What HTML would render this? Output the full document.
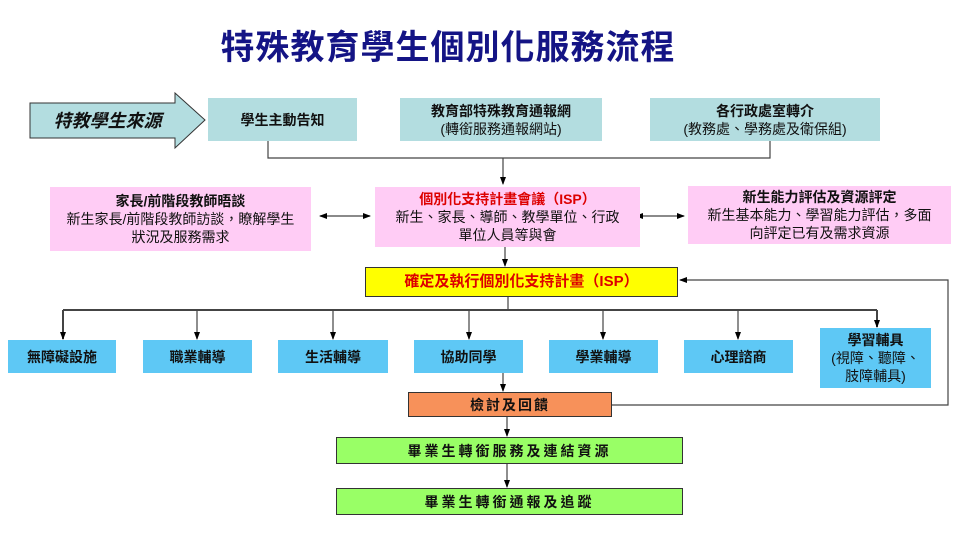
<!DOCTYPE html>
<html><head><meta charset="utf-8"><style>
body{margin:0;width:960px;height:540px;background:#fff;position:relative;overflow:hidden;font-family:"Liberation Sans","Noto Sans CJK TC",sans-serif;}
.b{position:absolute;display:flex;flex-direction:column;align-items:center;justify-content:center;text-align:center;color:#111;font-size:14px;line-height:18px;box-sizing:border-box}
.t{background:#b3dde0}
.p{background:#ffccf5}
.c{background:#5ec8f5;font-weight:bold;font-size:14px}
b{font-weight:bold}
svg{position:absolute;left:0;top:0}
</style></head><body>
<div class="b" style="left:200px;top:28px;width:496px;height:40px;font-size:34px;font-weight:bold;color:#141485;letter-spacing:1px">特殊教育學生個別化服務流程</div>
<svg width="960" height="540">
<defs><marker id="a" markerWidth="8" markerHeight="8" refX="7" refY="4" orient="auto" markerUnits="userSpaceOnUse"><path d="M0,1 L8,4 L0,7z" fill="#000"/></marker>
<marker id="s" markerWidth="8" markerHeight="8" refX="1" refY="4" orient="auto" markerUnits="userSpaceOnUse"><path d="M8,1 L0,4 L8,7z" fill="#000"/></marker></defs>
<path d="M30,103 H175 V93 L205,120 L175,148 V138 H30Z" fill="#b3dde0" stroke="#333" stroke-width="1"/>
<g stroke="#444" stroke-width="1.2" fill="none">
<path d="M268,141 V158 H770 V141"/>
<path d="M503,158 V184" marker-end="url(#a)"/>
<path d="M320,216 H370" marker-start="url(#s)" marker-end="url(#a)"/>
<path d="M636,216 H684" marker-start="url(#s)" marker-end="url(#a)"/>
<path d="M505,246 V266" marker-end="url(#a)"/>
<path d="M508,297 V309"/>
<path d="M63,310 H877" stroke-width="2"/>
<path d="M63,310 V339" marker-end="url(#a)" stroke-width="2"/>
<path d="M197,310 V339" marker-end="url(#a)"/>
<path d="M333,310 V339" marker-end="url(#a)"/>
<path d="M469,310 V339" marker-end="url(#a)"/>
<path d="M603,310 V339" marker-end="url(#a)"/>
<path d="M738,310 V339" marker-end="url(#a)"/>
<path d="M877,310 V327" marker-end="url(#a)" stroke-width="2"/>
<path d="M503,373 V391" marker-end="url(#a)"/>
<path d="M612,405 H948 V280 H680" marker-end="url(#a)"/>
<path d="M507,417 V436" marker-end="url(#a)"/>
<path d="M507,464 V487" marker-end="url(#a)"/>
</g>
</svg>
<div class="b" style="left:40px;top:104px;width:135px;height:34px;font-size:18px;font-weight:bold;font-style:italic">特教學生來源</div>
<div class="b t" style="left:208px;top:98px;width:149px;height:43px"><b>學生主動告知</b></div>
<div class="b t" style="left:400px;top:98px;width:202px;height:43px"><b>教育部特殊教育通報網</b><span>(轉銜服務通報網站)</span></div>
<div class="b t" style="left:650px;top:98px;width:230px;height:43px"><b>各行政處室轉介</b><span>(教務處、學務處及衛保組)</span></div>
<div class="b p" style="left:50px;top:187px;width:261px;height:64px"><b>家長/前階段教師晤談</b><span>新生家長/前階段教師訪談，瞭解學生<br>狀況及服務需求</span></div>
<div class="b p" style="left:375px;top:187px;width:265px;height:60px"><b style="color:#d00">個別化支持計畫會議（ISP）</b><span>新生、家長、導師、教學單位、行政<br>單位人員等與會</span></div>
<div class="b p" style="left:688px;top:186px;width:263px;height:58px"><b>新生能力評估及資源評定</b><span>新生基本能力、學習能力評估，多面<br>向評定已有及需求資源</span></div>
<div class="b" style="left:365px;top:267px;width:313px;height:30px;background:#ffff00;border:1px solid #333;color:#d00;font-weight:bold;font-size:15px">確定及執行個別化支持計畫（ISP）</div>
<div class="b c" style="left:8px;top:340px;width:108px;height:33px">無障礙設施</div>
<div class="b c" style="left:143px;top:340px;width:109px;height:33px">職業輔導</div>
<div class="b c" style="left:278px;top:340px;width:110px;height:33px">生活輔導</div>
<div class="b c" style="left:414px;top:340px;width:109px;height:33px">協助同學</div>
<div class="b c" style="left:549px;top:340px;width:109px;height:33px">學業輔導</div>
<div class="b c" style="left:684px;top:340px;width:109px;height:33px">心理諮商</div>
<div class="b c" style="left:820px;top:328px;width:111px;height:60px;font-weight:normal"><b>學習輔具</b><span>(視障、聽障、<br>肢障輔具)</span></div>
<div class="b" style="left:408px;top:392px;width:204px;height:25px;background:#f7915a;border:1px solid #333;font-weight:bold;letter-spacing:2px">檢討及回饋</div>
<div class="b" style="left:336px;top:437px;width:347px;height:27px;background:#99ff66;border:1px solid #333;font-weight:bold;letter-spacing:3px">畢業生轉銜服務及連結資源</div>
<div class="b" style="left:336px;top:488px;width:347px;height:27px;background:#99ff66;border:1px solid #333;font-weight:bold;letter-spacing:3px">畢業生轉銜通報及追蹤</div>
</body></html>
